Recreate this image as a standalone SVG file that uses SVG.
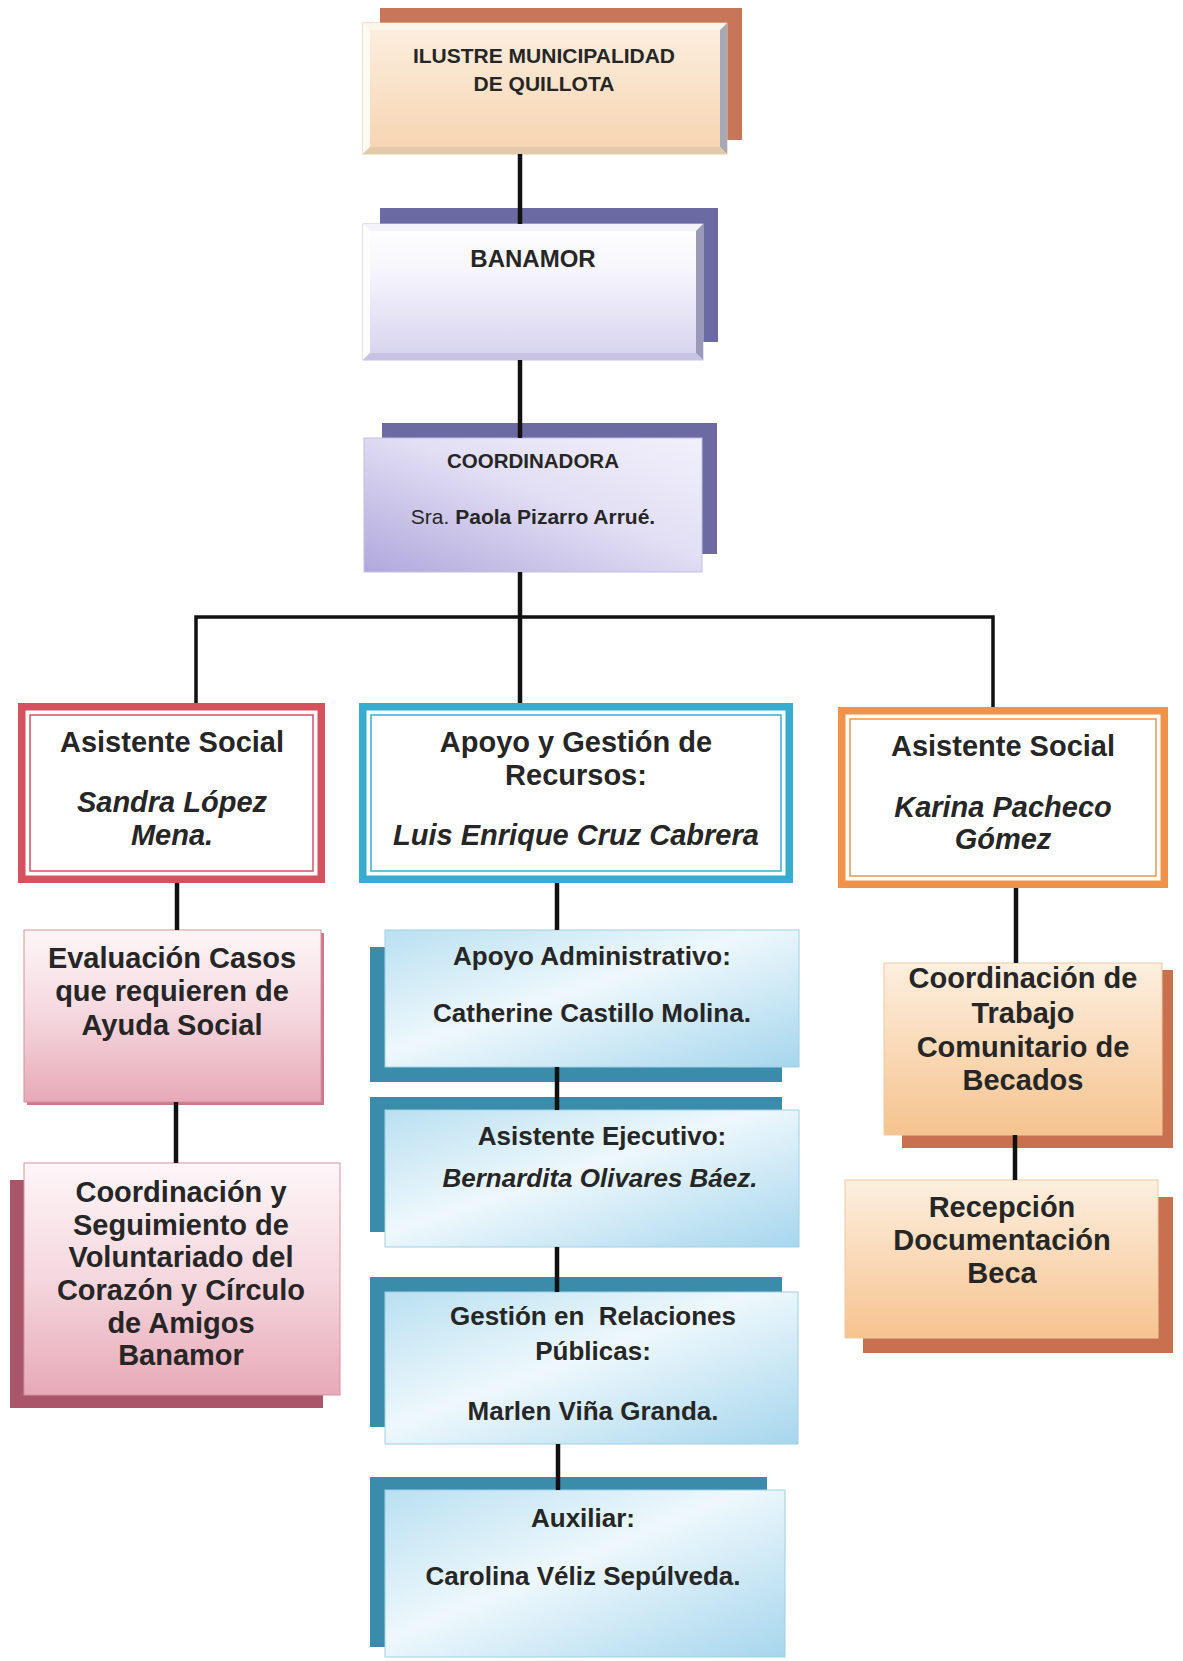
<svg xmlns="http://www.w3.org/2000/svg" width="1183" height="1661" viewBox="0 0 1183 1661">
<style>
text{font-family:"Liberation Sans",Arial,sans-serif;font-weight:bold;fill:#262626;text-anchor:middle}
.t20{font-size:20.5px}
.t21{font-size:21px}
.t24{font-size:24px}
.t26{font-size:26px}
.t29{font-size:29px}
.it{font-style:italic}
.conn{stroke:#111;stroke-width:4.5;fill:none}
.connT{stroke:#111;stroke-width:3.5;fill:none}
</style>
<defs>
<linearGradient id="gTop" x1="0" y1="0" x2="0" y2="1"><stop offset="0" stop-color="#fcefe0"/><stop offset="1" stop-color="#f6d4b0"/></linearGradient>
<linearGradient id="gBan" x1="0" y1="0" x2="0" y2="1"><stop offset="0" stop-color="#ffffff"/><stop offset="0.35" stop-color="#f6f5fc"/><stop offset="1" stop-color="#d6d2ef"/></linearGradient>
<linearGradient id="gCoord" x1="1" y1="0" x2="0" y2="1"><stop offset="0" stop-color="#f2f0fb"/><stop offset="0.45" stop-color="#e2def4"/><stop offset="1" stop-color="#b0a8dc"/></linearGradient>
<linearGradient id="gPink" x1="0" y1="0" x2="0" y2="1"><stop offset="0" stop-color="#fdf6f8"/><stop offset="0.5" stop-color="#f5d7de"/><stop offset="1" stop-color="#e7a9b7"/></linearGradient>
<linearGradient id="gBlue" x1="0" y1="0" x2="1" y2="1"><stop offset="0" stop-color="#b9e0f1"/><stop offset="0.45" stop-color="#eef8fc"/><stop offset="1" stop-color="#a6d6ed"/></linearGradient>
<linearGradient id="gOr" x1="0" y1="0" x2="0" y2="1"><stop offset="0" stop-color="#fdefdf"/><stop offset="1" stop-color="#f6c38f"/></linearGradient>
</defs>
<rect width="1183" height="1661" fill="#ffffff"/>

<g id="node-municipalidad">
<rect x="380" y="8" width="362" height="132" fill="#c8765a"/>
<rect x="363" y="23" width="364" height="131" fill="url(#gTop)" stroke="#e9c59e" stroke-width="1"/>
<polygon points="363,23 727,23 720,30 370,30" fill="#fdf4ea"/>
<polygon points="363,23 370,30 370,147 363,154" fill="#fffaf3"/>
<polygon points="727,23 727,154 720,147 720,30" fill="#a7aab6"/>
<polygon points="363,154 370,147 720,147 727,154" fill="#e2c9ab"/>
<text class="t21" x="544" y="63">ILUSTRE MUNICIPALIDAD</text>
<text class="t21" x="544" y="91">DE QUILLOTA</text>
</g>

<g id="node-banamor">
<rect x="380" y="208" width="338" height="134" fill="#6b6aa2"/>
<rect x="363" y="224" width="340" height="136" fill="url(#gBan)" stroke="#c6c1e4" stroke-width="1"/>
<polygon points="363,224 703,224 696,231 370,231" fill="#f4f3fb"/>
<polygon points="363,224 370,231 370,353 363,360" fill="#ffffff"/>
<polygon points="703,224 703,360 696,353 696,231" fill="#9a9ab8"/>
<polygon points="363,360 370,353 696,353 703,360" fill="#c8c3e2"/>
<text class="t24" x="533" y="267">BANAMOR</text>
</g>

<g id="node-coordinadora">
<rect x="382" y="423" width="335" height="131" fill="#6c69a3"/>
<rect x="364" y="438" width="338" height="134" fill="url(#gCoord)" stroke="#c4bde6" stroke-width="1"/>
<text class="t20" x="533" y="468">COORDINADORA</text>
<text class="t21" x="533" y="524"><tspan font-weight="normal">Sra.</tspan> Paola Pizarro Arrué.</text>
</g>

<g id="node-asistente-sandra">
<rect x="21.75" y="706.75" width="299.5" height="172.5" fill="#ffffff" stroke="#d6515e" stroke-width="7.5"/>
<rect x="30" y="715" width="283" height="156" fill="none" stroke="#d6515e" stroke-width="1.5"/>
<text class="t29" x="172" y="752">Asistente Social</text>
<text class="t29 it" x="172" y="812">Sandra López</text>
<text class="t29 it" x="172" y="845">Mena.</text>
</g>

<g id="node-apoyo-gestion">
<rect x="362.75" y="706.75" width="426.5" height="172.5" fill="#ffffff" stroke="#37acd0" stroke-width="7.5"/>
<rect x="371" y="715" width="410" height="156" fill="none" stroke="#37acd0" stroke-width="1.5"/>
<text class="t29" x="576" y="752">Apoyo y Gestión de</text>
<text class="t29" x="576" y="785">Recursos:</text>
<text class="t29 it" x="576" y="845">Luis Enrique Cruz Cabrera</text>
</g>

<g id="node-asistente-karina">
<rect x="841.75" y="710.75" width="322.5" height="173.5" fill="#ffffff" stroke="#f0924a" stroke-width="7.5"/>
<rect x="850" y="719" width="306" height="157" fill="none" stroke="#f0924a" stroke-width="1.5"/>
<text class="t29" x="1003" y="756">Asistente Social</text>
<text class="t29 it" x="1003" y="817">Karina Pacheco</text>
<text class="t29 it" x="1003" y="849">Gómez</text>
</g>

<g id="node-evaluacion">
<rect x="27" y="933" width="297" height="172" fill="#c9798a"/>
<rect x="24" y="930" width="297" height="172" fill="url(#gPink)" stroke="#d8909e" stroke-width="1"/>
<text class="t29" x="172" y="968">Evaluación Casos</text>
<text class="t29" x="172" y="1001">que requieren de</text>
<text class="t29" x="172" y="1035">Ayuda Social</text>
</g>

<g id="node-voluntariado">
<rect x="10" y="1180" width="313" height="228" fill="#a9566a"/>
<rect x="24" y="1163" width="316" height="232" fill="url(#gPink)" stroke="#d8909e" stroke-width="1"/>
<text class="t29" x="181" y="1202">Coordinación y</text>
<text class="t29" x="181" y="1235">Seguimiento de</text>
<text class="t29" x="181" y="1267">Voluntariado del</text>
<text class="t29" x="181" y="1300">Corazón y Círculo</text>
<text class="t29" x="181" y="1333">de Amigos</text>
<text class="t29" x="181" y="1365">Banamor</text>
</g>

<g id="node-apoyo-administrativo">
<rect x="370" y="947" width="412" height="135" fill="#3b8bab"/>
<rect x="385" y="930" width="414" height="137" fill="url(#gBlue)" stroke="#9fd0e6" stroke-width="1"/>
<text class="t26" x="592" y="965">Apoyo Administrativo:</text>
<text class="t26" x="592" y="1022">Catherine Castillo Molina.</text>
</g>

<g id="node-asistente-ejecutivo">
<rect x="370" y="1097" width="412" height="135" fill="#3b8bab"/>
<rect x="385" y="1110" width="414" height="137" fill="url(#gBlue)" stroke="#9fd0e6" stroke-width="1"/>
<text class="t26" x="602" y="1145">Asistente Ejecutivo:</text>
<text class="t26 it" x="600" y="1187">Bernardita Olivares Báez.</text>
</g>

<g id="node-relaciones-publicas">
<rect x="370" y="1277" width="412" height="150" fill="#3b8bab"/>
<rect x="385" y="1292" width="413" height="152" fill="url(#gBlue)" stroke="#9fd0e6" stroke-width="1"/>
<text class="t26" x="593" y="1325" xml:space="preserve">Gestión en  Relaciones</text>
<text class="t26" x="593" y="1360">Públicas:</text>
<text class="t26" x="593" y="1420">Marlen Viña Granda.</text>
</g>

<g id="node-auxiliar">
<rect x="370" y="1477" width="397" height="170" fill="#3b8bab"/>
<rect x="385" y="1490" width="400" height="167" fill="url(#gBlue)" stroke="#9fd0e6" stroke-width="1"/>
<text class="t26" x="583" y="1527">Auxiliar:</text>
<text class="t26" x="583" y="1585">Carolina Véliz Sepúlveda.</text>
</g>

<g id="node-trabajo-comunitario">
<rect x="902" y="970" width="271" height="178" fill="#c9714f"/>
<rect x="884" y="963" width="278" height="172" fill="url(#gOr)" stroke="#efc9a2" stroke-width="1"/>
<text class="t29" x="1023" y="988">Coordinación de</text>
<text class="t29" x="1023" y="1023">Trabajo</text>
<text class="t29" x="1023" y="1057">Comunitario de</text>
<text class="t29" x="1023" y="1090">Becados</text>
</g>

<g id="node-recepcion-beca">
<rect x="863" y="1197" width="310" height="156" fill="#c9714f"/>
<rect x="845" y="1180" width="313" height="158" fill="url(#gOr)" stroke="#efc9a2" stroke-width="1"/>
<text class="t29" x="1002" y="1217">Recepción</text>
<text class="t29" x="1002" y="1250">Documentación</text>
<text class="t29" x="1002" y="1283">Beca</text>
</g>

<g id="connectors">
<line class="conn" x1="520" y1="154" x2="520" y2="224"/>
<line class="conn" x1="520" y1="360" x2="520" y2="438"/>
<line class="conn" x1="520" y1="572" x2="520" y2="703"/>
<polyline class="connT" points="196,703 196,617 993,617 993,707"/>
<line class="conn" x1="177" y1="883" x2="177" y2="930"/>
<line class="conn" x1="557" y1="883" x2="557" y2="930"/>
<line class="conn" x1="1016" y1="888" x2="1016" y2="963"/>
<line class="conn" x1="176" y1="1102" x2="176" y2="1163"/>
<line class="conn" x1="557" y1="1067" x2="557" y2="1110"/>
<line class="conn" x1="557" y1="1247" x2="557" y2="1292"/>
<line class="conn" x1="558" y1="1444" x2="558" y2="1490"/>
<line class="conn" x1="1015" y1="1135" x2="1015" y2="1180"/>
</g>
</svg>
